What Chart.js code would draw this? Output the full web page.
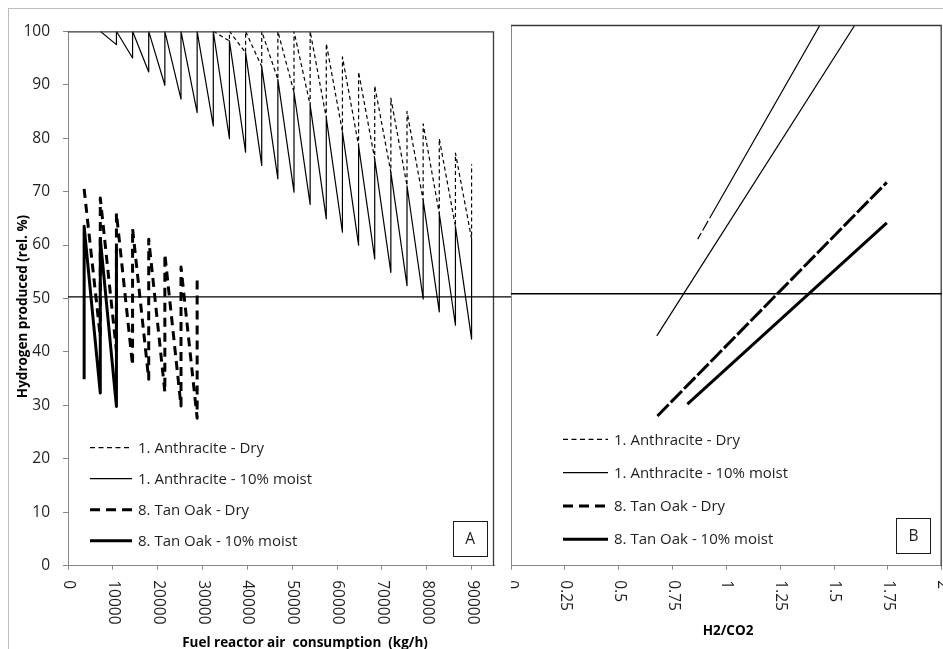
<!DOCTYPE html>
<html>
<head>
<meta charset="utf-8">
<script src="https://cdn.jsdelivr.net/npm/chart.js@4.4.1/dist/chart.umd.min.js"></script>
<style>
  html, body { margin: 0; padding: 0; background: #fff; }
  body { width: 943px; height: 649px; position: relative; overflow: hidden; }
  #frameA { position: absolute; left: 8px; top: 8px; width: 940px; height: 660px;
            border-left: 1px solid #bdbdbd; border-top: 1px solid #bdbdbd; }
  #frameB { position: absolute; left: 511px; top: 9px; width: 440px; height: 660px; background: #fff; }
  #chartA { position: absolute; left: 9px; top: 9px; }
  #chartB { position: absolute; left: 511px; top: 9px; }
</style>
</head>
<body>
<div id="frameA"></div>
<div id="frameB"></div>
<canvas id="chartA" width="502" height="640"></canvas>
<canvas id="chartB" width="432" height="640"></canvas>
<script>
// series names (legend order)
const seriesNames = ['1. Anthracite - Dry', '1. Anthracite - 10% moist', '8. Tan Oak - Dry', '8. Tan Oak - 10% moist'];

// Panel A: fuel reactor air consumption (kg/h)
const airFlow = [3600, 7200, 10800, 14400, 18000, 21600, 25200, 28800, 32400, 36000, 39600, 43200,
                 46800, 50400, 54000, 57600, 61200, 64800, 68400, 72000, 75600, 79200, 82800, 86400, 90000];

// hydrogen produced (rel. %) - low / high value at each air flow
const anthDryLow = [null, null, null, null, null, null, null, null, 100, 98.2, 96.0, 93.4, 91.0, 88.6,
                    86.2, 83.8, 81.2, 78.6, 76.1, 73.6, 71.1, 68.4, 65.9, 63.5, 61.2];
const anthDryHigh = [null, null, null, null, null, null, null, null, 100, 100, 100, 100, 100, 100,
                     100, 97.7, 95.2, 92.4, 89.8, 87.5, 85.0, 82.7, 79.9, 77.2, 75.1];
const anthMoistLow = [null, 100, 97.5, 95.0, 92.4, 89.9, 87.3, 84.8, 82.3, 79.9, 77.4, 74.9, 72.4,
                      69.9, 67.6, 64.9, 62.4, 60.0, 57.4, 54.9, 52.4, 49.9, 47.5, 45.0, 42.4];
const anthMoistHigh = [null, 100, 100, 100, 100, 100, 100, 100, 100, 98.2, 96.0, 93.4, 91.0,
                       88.6, 86.2, 83.8, 81.2, 78.6, 76.1, 73.6, 71.1, 68.4, 65.9, 63.5, 61.2];
const oakDryLow = [null, 42.8, 40.2, 37.5, 34.9, 32.5, 29.9, 27.6];
const oakDryHigh = [70.5, 68.8, 66.0, 63.1, 61.1, 58.3, 55.9, 53.6];
const oakMoistLow = [34.9, 32.3, 29.8];
const oakMoistHigh = [63.5, 61.2, 59.2];

// Panel B: H2/CO2 ratio vs hydrogen produced
const ratioAnthDry = [0.867, 1.435];
const h2AnthDry = [60.4, 100];
const ratioAnthMoist = [0.677, 1.597];
const h2AnthMoist = [42.5, 100];
const ratioOakDry = [0.680, 1.745];
const h2OakDry = [27.7, 70.9];
const ratioOakMoist = [0.819, 1.745];
const h2OakMoist = [29.9, 63.4];

// ticks
const yTicks = [0, 10, 20, 30, 40, 50, 60, 70, 80, 90, 100];
const xTicksA = [0, 10000, 20000, 30000, 40000, 50000, 60000, 70000, 80000, 90000];
const xTicksB = [0, 0.25, 0.5, 0.75, 1, 1.25, 1.5, 1.75, 2];
const xLabelsB = ['0', '0.25', '0.5', '0.75', '1', '1.25', '1.5', '1.75', '2'];
const refLevel = 50.3;

const fontName = '"Open Sans", sans-serif';
const axisGray = '#868686';
const textColor = '#1f1f1f';

// line looks for the 4 series
const looks = [
  { width: 1.2, dash: [4, 3] },
  { width: 1.2, dash: [] },
  { width: 3, dash: [9, 6] },
  { width: 3, dash: [] }
];

function sawPoints(lows, highs) {
  const pts = [];
  highs.forEach((h, i) => {
    if (h == null) return;
    if (lows[i] != null) pts.push({ x: airFlow[i], y: lows[i] });
    pts.push({ x: airFlow[i], y: h });
  });
  return pts;
}

function pairPoints(xs, ys) {
  return xs.map((x, i) => ({ x: x, y: ys[i] }));
}

function lineSet(label, data, look, dash) {
  return {
    label: label,
    data: data,
    borderColor: '#000',
    borderWidth: look.width,
    borderDash: dash || look.dash,
    borderJoinStyle: 'round',
    pointRadius: 0,
    fill: false,
    tension: 0
  };
}

// text, legend, frame and reference line drawn on top of each panel
const panelDecor = {
  id: 'panelDecor',
  afterDraw(chart, args, opts) {
    const ctx = chart.ctx;
    const area = chart.chartArea;
    const xs = chart.scales.x;
    const ys = chart.scales.y;
    ctx.save();

    // plot area border (top, right)
    ctx.strokeStyle = '#3a3a3a';
    ctx.lineWidth = 1.3;
    ctx.beginPath();
    ctx.moveTo(area.left, area.top + 0.5);
    ctx.lineTo(area.right - 0.5, area.top + 0.5);
    ctx.lineTo(area.right - 0.5, area.bottom);
    ctx.stroke();

    // reference line
    const yRef = ys.getPixelForValue(refLevel);
    ctx.strokeStyle = '#000';
    ctx.lineWidth = 1.3;
    ctx.beginPath();
    ctx.moveTo(opts.refFrom === 'canvas' ? 0 : area.left, yRef);
    ctx.lineTo(opts.refTo === 'canvas' ? chart.width : area.right, yRef);
    ctx.stroke();

    // rotated x tick labels (clockwise)
    ctx.fillStyle = textColor;
    ctx.font = '15.5px ' + fontName;
    ctx.textAlign = 'left';
    ctx.textBaseline = 'middle';
    opts.ticks.forEach((v, i) => {
      ctx.save();
      ctx.translate(xs.getPixelForValue(v) + 0.5, area.bottom + 14.5);
      ctx.rotate(Math.PI / 2);
      ctx.fillText(opts.labels[i], 0, 0);
      ctx.restore();
    });

    // axis titles
    ctx.fillStyle = '#000';
    ctx.font = 'bold 13.5px ' + fontName;
    ctx.textAlign = 'center';
    ctx.fillText(opts.xTitle, area.left + opts.xTitleDx, area.bottom + opts.xTitleDy);
    if (opts.yTitle) {
      ctx.save();
      ctx.translate(opts.yTitleX, (area.top + area.bottom) / 2 + 8);
      ctx.rotate(-Math.PI / 2);
      ctx.fillText(opts.yTitle, 0, 0);
      ctx.restore();
    }

    // legend
    const lg = opts.legend;
    ctx.font = '15px ' + fontName;
    ctx.textAlign = 'left';
    seriesNames.forEach((name, i) => {
      const y = area.bottom - lg.firstRow + i * lg.rowGap;
      const look = looks[i];
      ctx.strokeStyle = '#000';
      ctx.lineWidth = look.width;
      ctx.setLineDash(i === 0 ? [5, 3.5] : (i === 2 ? [10, 6] : []));
      ctx.beginPath();
      ctx.moveTo(area.left + lg.lineFrom, y);
      ctx.lineTo(area.left + lg.lineTo, y);
      ctx.stroke();
      ctx.setLineDash([]);
      ctx.fillStyle = textColor;
      ctx.fillText(name, area.left + lg.textAt, y + 1);
    });

    // panel letter box
    const b = opts.box;
    const bx = area.right - b.dx - b.w;
    const by = area.bottom - b.dy - b.h;
    ctx.strokeStyle = '#1a1a1a';
    ctx.lineWidth = 1;
    ctx.strokeRect(Math.round(bx) + 0.5, Math.round(by) + 0.5, b.w, b.h);
    ctx.fillStyle = textColor;
    ctx.font = '15.5px ' + fontName;
    ctx.textAlign = 'center';
    ctx.fillText(b.text, bx + b.w / 2 + 0.5, by + b.h / 2 + 1);

    ctx.restore();
  }
};

function yAxis(showLabels, width) {
  return {
    type: 'linear',
    min: 0,
    max: 100,
    afterBuildTicks: (s) => { s.ticks = yTicks.map(v => ({ value: v })); },
    afterFit: (s) => { s.width = width; },
    border: { display: true, color: axisGray, width: 1 },
    grid: { drawOnChartArea: false, drawTicks: showLabels, tickLength: 5, color: axisGray },
    ticks: {
      display: showLabels,
      padding: 13,
      color: textColor,
      font: { family: fontName, size: 15.5 }
    }
  };
}

function xAxis(min, max, tickList) {
  return {
    type: 'linear',
    min: min,
    max: max,
    afterBuildTicks: (s) => { s.ticks = tickList.map(v => ({ value: v })); },
    afterFit: (s) => { s.height = 83.3; },
    border: { display: true, color: axisGray, width: 1 },
    grid: { drawOnChartArea: false, drawTicks: true, tickLength: 4, color: axisGray },
    ticks: { display: false }
  };
}

new Chart(document.getElementById('chartA'), {
  type: 'line',
  data: {
    datasets: [
      lineSet(seriesNames[0], sawPoints(anthDryLow, anthDryHigh), looks[0]),
      lineSet(seriesNames[1], sawPoints(anthMoistLow, anthMoistHigh), looks[1]),
      lineSet(seriesNames[2], sawPoints(oakDryLow, oakDryHigh), looks[2]),
      lineSet(seriesNames[3], sawPoints(oakMoistLow, oakMoistHigh), looks[3])
    ]
  },
  options: {
    responsive: false,
    animation: false,
    devicePixelRatio: 1,
    layout: { padding: { top: 16, right: 17, left: 0, bottom: 0 } },
    plugins: {
      legend: { display: false },
      tooltip: { enabled: false },
      panelDecor: {
        ticks: xTicksA,
        labels: xTicksA.map(String),
        xTitle: 'Fuel reactor air  consumption  (kg/h)',
        xTitleDx: 237,
        xTitleDy: 77,
        yTitle: 'Hydrogen produced (rel. %)',
        yTitleX: 14,
        refFrom: 'area',
        refTo: 'canvas',
        legend: { firstRow: 118, rowGap: 31, lineFrom: 22, lineTo: 64, textAt: 70 },
        box: { text: 'A', dx: 7.3, dy: 9.7, w: 34, h: 35 }
      }
    },
    scales: {
      x: xAxis(0, 95000, xTicksA),
      y: yAxis(true, 59)
    }
  },
  plugins: [panelDecor]
});

new Chart(document.getElementById('chartB'), {
  type: 'line',
  data: {
    datasets: [
      lineSet(seriesNames[0], pairPoints(ratioAnthDry, h2AnthDry), looks[0], [7, 3, 11, 3, 1000]),
      lineSet(seriesNames[1], pairPoints(ratioAnthMoist, h2AnthMoist), looks[1]),
      lineSet(seriesNames[2], pairPoints(ratioOakDry, h2OakDry), looks[2], [16, 3]),
      lineSet(seriesNames[3], pairPoints(ratioOakMoist, h2OakMoist), looks[3])
    ]
  },
  options: {
    responsive: false,
    animation: false,
    devicePixelRatio: 1,
    layout: { padding: { top: 16, right: 1.3, left: 0, bottom: 0 } },
    plugins: {
      legend: { display: false },
      tooltip: { enabled: false },
      panelDecor: {
        ticks: xTicksB,
        labels: xLabelsB,
        xTitle: 'H2/CO2',
        xTitleDx: 217,
        xTitleDy: 65,
        yTitle: null,
        refFrom: 'canvas',
        refTo: 'area',
        legend: { firstRow: 126.4, rowGap: 33.3, lineFrom: 52, lineTo: 97, textAt: 103 },
        box: { text: 'B', dx: 11.7, dy: 12.4, w: 34, h: 35 }
      }
    },
    scales: {
      x: xAxis(0, 2, xTicksB),
      y: yAxis(false, 0)
    }
  },
  plugins: [panelDecor]
});
</script>
</body>
</html>
